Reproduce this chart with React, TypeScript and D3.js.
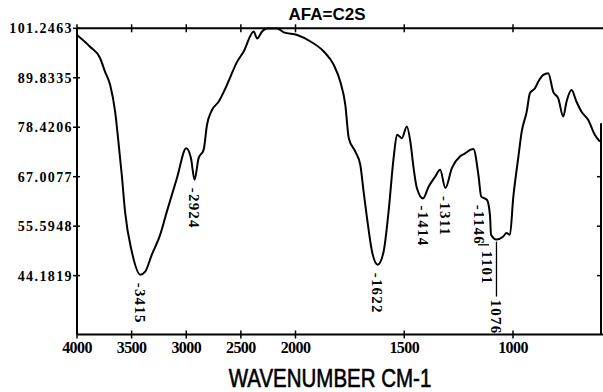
import React from "react";
import * as d3 from "d3";

const wavenumbers = [4000, 3881, 3789, 3743, 3697, 3651, 3621, 3590, 3560, 3498, 3420, 3376, 3315, 3239, 3177, 3085, 3000, 2957, 2924, 2887, 2841, 2810, 2764, 2704, 2627, 2535, 2474, 2383, 2351, 2306, 2260, 2168, 2107, 1992, 1931, 1870, 1824, 1794, 1771, 1755, 1725, 1702, 1687, 1671, 1648, 1622, 1595, 1572, 1549, 1533, 1511, 1488, 1472, 1457, 1442, 1414, 1388, 1358, 1335, 1311, 1281, 1243, 1220, 1197, 1182, 1159, 1146, 1120, 1106, 1101, 1076, 1045, 1030, 1014, 999, 976, 960, 937, 922, 899, 884, 861, 838, 815, 792, 769, 754, 731, 708, 685, 654, 624, 600];
const transmittance = [99.7, 97.0, 94.4, 91.2, 88.2, 82.0, 75.1, 67.4, 58.9, 49.7, 44.4, 45.1, 49.0, 53.6, 59.0, 66.7, 73.6, 71.3, 66.3, 71.3, 73.2, 79.0, 82.4, 84.3, 88.2, 93.5, 95.9, 100.5, 98.9, 100.5, 101.2, 101.2, 100.3, 99.7, 98.2, 95.9, 92.8, 88.9, 83.6, 75.9, 72.8, 69.7, 63.6, 57.4, 49.7, 46.7, 49.7, 59.0, 71.3, 76.7, 75.9, 78.6, 75.1, 69.0, 64.4, 62.0, 64.7, 67.0, 68.6, 64.4, 69.0, 71.7, 72.4, 73.2, 73.4, 67.4, 62.4, 61.7, 58.2, 53.6, 52.5, 53.2, 54.0, 53.6, 62.1, 71.3, 77.4, 82.0, 86.3, 87.4, 88.9, 90.5, 90.9, 86.6, 85.1, 80.9, 84.3, 87.0, 84.3, 82.0, 80.1, 76.7, 75.1];

const yTicks = [101.2463, 89.8335, 78.4206, 67.0077, 55.5948, 44.1819];
const yTickLabels = ["101.2463", "89.8335", "78.4206", "67.0077", "55.5948", "44.1819"];
const xTicks = [4000, 3500, 3000, 2500, 2000, 1500, 1000];
const xTickLabels = ["4000", "3500", "3000", "2500", "2000", "1500", "1000"];

const peakWavenumbers = [3415, 2924, 1622, 1414, 1311, 1146, 1101, 1076];
const peakValues = [44.4, 66.3, 46.7, 62.0, 64.4, 62.4, 53.6, 52.5];
const peakLabels = ["-3415", "-2924", "-1622", "-1414", "-1311", "-1146", "1101", "1076"];

const title = "AFA=C2S";
const xTitle = "WAVENUMBER CM-1";

export default function App() {
  const W = 603, H = 392;
  const left = 77, right = 600, top = 28.3, bottom = 334.5;
  const x = d3.scaleLinear().domain([4000, 2000, 600]).range([left, 295.5, right]);
  const y = d3.scaleLinear().domain([30.6, 101.2463]).range([bottom, top]);
  const data = wavenumbers.map((w, i) => [w, transmittance[i]] as [number, number]);
  const line = d3.line<[number, number]>().x(d => x(d[0])).y(d => y(d[1])).curve(d3.curveMonotoneX);

  // style offsets for peak labels (pixel gaps below the minimum)
  const labelGap = [8, 8, 8, 7, 8, 8, 16, 60];
  const labelDx = [-1, 0, 0, 0, 0, -2, -4, 0];

  const serif = "'Liberation Serif', 'DejaVu Serif', serif";
  return (
    <svg width={W} height={H} style={{ position: "absolute", left: 0, top: 0, background: "#fff" }}>
      <text x={327} y={20} textAnchor="middle" fontFamily="'Liberation Sans', Arial, sans-serif" fontWeight="bold" fontSize={17}>{title}</text>
      {/* frame */}
      <g stroke="#000" strokeWidth={2} fill="none">
        <line x1={left} x2={W} y1={top} y2={top} />
        <line x1={left} x2={W} y1={bottom} y2={bottom} />
        <line x1={left} x2={left} y1={top} y2={bottom} />
        <line x1={right + 1} x2={right + 1} y1={top + 95} y2={bottom} />
      </g>
      {/* y ticks */}
      {yTicks.map((v, i) => (
        <g key={"y" + i}>
          <line x1={left - 4} x2={left + 3} y1={y(v)} y2={y(v)} stroke="#000" strokeWidth={1.5} />
          <text x={left - 4} y={y(v)} dy="0.36em" textAnchor="end" fontFamily={serif} fontWeight="bold" fontSize={14} letterSpacing={1.4}>{yTickLabels[i]}</text>
        </g>
      ))}
      {yTicks.slice(3).map((v, i) => (
        <line key={"yr" + i} x1={right - 3} x2={right + 1} y1={y(v)} y2={y(v)} stroke="#000" strokeWidth={1.5} />
      ))}
      {/* x ticks */}
      {xTicks.map((v, i) => (
        <g key={"x" + i}>
          <line x1={x(v)} x2={x(v)} y1={bottom - 4} y2={bottom + 4} stroke="#000" strokeWidth={1.5} />
          <line x1={x(v)} x2={x(v)} y1={top - 4} y2={top + 4} stroke="#000" strokeWidth={1.5} />
          <text x={x(v)} y={353} textAnchor="middle" fontFamily={serif} fontWeight="bold" fontSize={16} letterSpacing={-0.6}>{xTickLabels[i]}</text>
        </g>
      ))}
      <text x={330} y={0} textAnchor="middle" fontFamily="'Liberation Sans', Arial, sans-serif" fontSize={20.5} stroke="#000" strokeWidth={0.5} transform="translate(0,386.5) scale(1,1.22)">{xTitle}</text>
      {/* spectrum */}
      <path d={line(data) || ""} fill="none" stroke="#000" strokeWidth={2} strokeLinejoin="round" />
      {/* peak labels */}
      {peakWavenumbers.map((w, i) => {
        const px = x(w) + labelDx[i];
        const py = y(peakValues[i]) + labelGap[i];
        return (
          <g key={"p" + i}>
            {i === 7 && <line x1={x(w)} x2={x(w)} y1={y(peakValues[i]) + 2} y2={py - 3} stroke="#000" strokeWidth={1.3} />}
            {i === 6 && <line x1={px - 9} x2={px + 2} y1={py - 6} y2={py - 6} stroke="#000" strokeWidth={1.3} />}
            <text x={px} y={py} dy="0.36em" transform={`rotate(90 ${px} ${py})`} fontFamily={serif} fontWeight="bold" fontSize={15} letterSpacing={1.2}>{peakLabels[i]}</text>
          </g>
        );
      })}
    </svg>
  );
}
